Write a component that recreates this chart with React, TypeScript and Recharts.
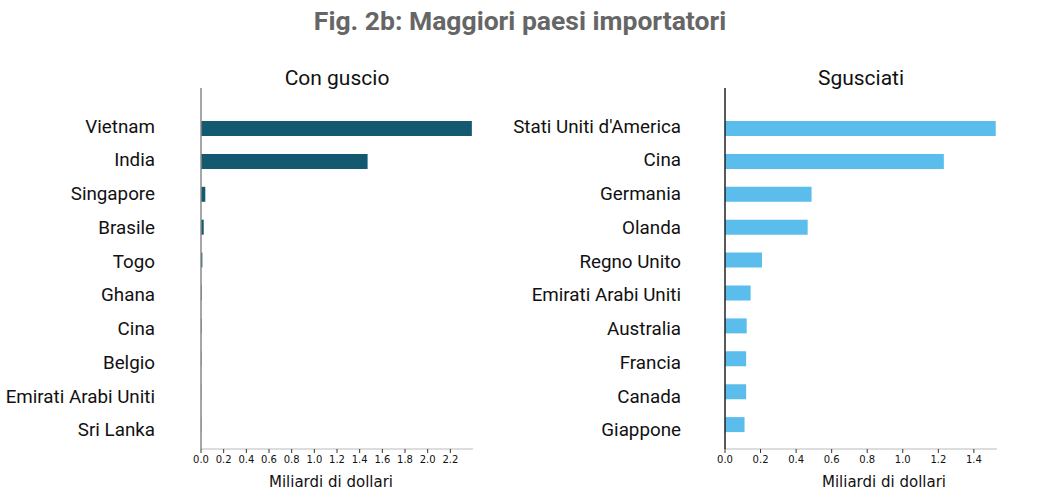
import { BarChart, Bar, XAxis, YAxis } from "recharts";

const shellCountries = [
  "Vietnam",
  "India",
  "Singapore",
  "Brasile",
  "Togo",
  "Ghana",
  "Cina",
  "Belgio",
  "Emirati Arabi Uniti",
  "Sri Lanka",
];
const shellValues = [2.39, 1.47, 0.038, 0.024, 0.012, 0.006, 0.005, 0.004, 0.003, 0.003];
const shellTicks = [0, 0.2, 0.4, 0.6, 0.8, 1.0, 1.2, 1.4, 1.6, 1.8, 2.0, 2.2];

const kernelCountries = [
  "Stati Uniti d'America",
  "Cina",
  "Germania",
  "Olanda",
  "Regno Unito",
  "Emirati Arabi Uniti",
  "Australia",
  "Francia",
  "Canada",
  "Giappone",
];
const kernelValues = [1.523, 1.231, 0.487, 0.465, 0.208, 0.144, 0.122, 0.119, 0.119, 0.11];
const kernelTicks = [0, 0.2, 0.4, 0.6, 0.8, 1.0, 1.2, 1.4];

const FONT = "Roboto, 'Noto Sans', sans-serif";
const TICK_FONT = "'DejaVu Sans', Verdana, sans-serif";

function toRows(names: string[], values: number[]) {
  return names.map((name, i) => ({ name, value: values[i] }));
}

// labels in the original sit on a slightly wider pitch than the bars
function CountryTick(props: any) {
  const { x, y, payload, index } = props;
  const shift = -2.5 + index * 0.85;
  return (
    <text
      x={x}
      y={y + shift}
      dy="0.36em"
      textAnchor="end"
      fontSize={18.8}
      fill="#111111"
      fontFamily={FONT}
    >
      {payload.value}
    </text>
  );
}

interface PanelProps {
  rows: { name: string; value: number }[];
  ticks: number[];
  max: number;
  color: string;
  axisColor: string;
  width: number;
  yAxisWidth: number;
  labelGap: number;
  marginRight: number;
  titleShift: number;
}

function Panel({ rows, ticks, max, color, axisColor, width, yAxisWidth, labelGap, marginRight, titleShift }: PanelProps) {
  return (
    <BarChart
      width={width}
      height={492}
      data={rows}
      layout="vertical"
      margin={{ top: 88, right: marginRight, bottom: 0, left: 0 }}
    >
      <XAxis
        type="number"
        domain={[0, max]}
        ticks={ticks}
        allowDataOverflow
        tickFormatter={(v: number) => v.toFixed(1)}
        height={43}
        tickSize={4}
        tickMargin={3}
        axisLine={{ stroke: "#bbbbbb" }}
        tickLine={{ stroke: "#333333" }}
        tick={{ fontSize: 10, fill: "#111111", fontFamily: TICK_FONT }}
        label={{
          value: "Miliardi di dollari",
          position: "insideBottom",
          offset: 5,
          dx: titleShift,
          style: { fontSize: 15, fill: "#111111", fontFamily: TICK_FONT },
        }}
      />
      <YAxis
        type="category"
        dataKey="name"
        width={yAxisWidth}
        tickSize={0}
        tickMargin={labelGap}
        interval={0}
        padding={{ top: 24, bottom: 8 }}
        axisLine={{ stroke: axisColor, strokeWidth: 1.5 }}
        tickLine={false}
        tick={<CountryTick />}
      />
      <Bar dataKey="value" fill={color} barSize={15} isAnimationActive={false} />
    </BarChart>
  );
}

export default function App() {
  return (
    <div
      style={{
        position: "absolute",
        left: 0,
        top: 0,
        width: 1061,
        height: 492,
        background: "#ffffff",
        fontFamily: FONT,
      }}
    >
      <div
        style={{
          position: "absolute",
          left: 0,
          top: 5,
          width: 1040,
          textAlign: "center",
          fontSize: 26.5,
          fontWeight: 700,
          color: "#666666",
        }}
      >
        Fig. 2b: Maggiori paesi importatori
      </div>
      <div
        style={{
          position: "absolute",
          left: 201,
          top: 66,
          width: 272,
          textAlign: "center",
          fontSize: 21,
          color: "#111111",
        }}
      >
        Con guscio
      </div>
      <div
        style={{
          position: "absolute",
          left: 725,
          top: 66,
          width: 272,
          textAlign: "center",
          fontSize: 21,
          color: "#111111",
        }}
      >
        Sgusciati
      </div>
      <div style={{ position: "absolute", left: 0, top: 0 }}>
        <Panel
          rows={toRows(shellCountries, shellValues)}
          ticks={shellTicks}
          max={2.4}
          color="#135a70"
          axisColor="#888888"
          width={480}
          yAxisWidth={201}
          labelGap={46}
          marginRight={7}
          titleShift={-6}
        />
      </div>
      <div style={{ position: "absolute", left: 480, top: 0 }}>
        <Panel
          rows={toRows(kernelCountries, kernelValues)}
          ticks={kernelTicks}
          max={1.53}
          color="#5bbdec"
          axisColor="#222222"
          width={520}
          yAxisWidth={245}
          labelGap={44}
          marginRight={3}
          titleShift={23}
        />
      </div>
    </div>
  );
}
